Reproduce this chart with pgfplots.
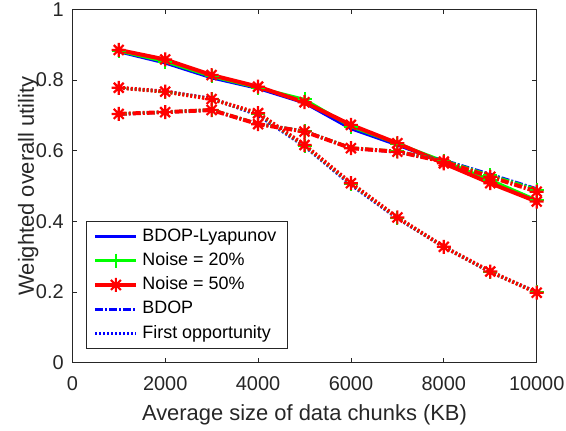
\documentclass[border=0pt]{standalone}
\usepackage{fontspec}
\setmainfont{Liberation Sans}
\usepackage{pgfplots}
\usepackage{pgfplotstable}
\pgfplotsset{compat=1.18}
\definecolor{mb}{rgb}{0,0,1}
\definecolor{mg}{rgb}{0,1,0}
\definecolor{mr}{rgb}{1,0,0}
\definecolor{ax}{rgb}{0.15,0.15,0.15}
\pgfdeclareplotmark{mast}{%
 \pgfpathmoveto{\pgfqpoint{0pt}{\pgfplotmarksize}}\pgfpathlineto{\pgfqpoint{0pt}{-\pgfplotmarksize}}%
 \pgfpathmoveto{\pgfqpoint{\pgfplotmarksize}{0pt}}\pgfpathlineto{\pgfqpoint{-\pgfplotmarksize}{0pt}}%
 \pgfpathmoveto{\pgfqpoint{0.7071\pgfplotmarksize}{0.7071\pgfplotmarksize}}\pgfpathlineto{\pgfqpoint{-0.7071\pgfplotmarksize}{-0.7071\pgfplotmarksize}}%
 \pgfpathmoveto{\pgfqpoint{-0.7071\pgfplotmarksize}{0.7071\pgfplotmarksize}}\pgfpathlineto{\pgfqpoint{0.7071\pgfplotmarksize}{-0.7071\pgfplotmarksize}}%
 \pgfusepathqstroke}
\pgfplotstableread{
x     bl    gl    rl    bb    gb    rb    bf    gf    rf
1000  0.880 0.882 0.885 0.703 0.704 0.704 0.778 0.778 0.778
2000  0.848 0.852 0.858 0.709 0.709 0.709 0.768 0.767 0.767
3000  0.806 0.810 0.814 0.715 0.716 0.715 0.748 0.746 0.746
4000  0.776 0.778 0.781 0.676 0.676 0.675 0.700 0.704 0.706
5000  0.735 0.745 0.737 0.655 0.655 0.654 0.612 0.614 0.616
6000  0.662 0.668 0.673 0.607 0.608 0.607 0.503 0.506 0.508
7000  0.616 0.620 0.621 0.596 0.598 0.597 0.408 0.410 0.411
8000  0.567 0.570 0.564 0.573 0.572 0.569 0.328 0.328 0.328
9000  0.514 0.517 0.508 0.533 0.530 0.526 0.256 0.257 0.258
10000 0.458 0.460 0.456 0.492 0.490 0.484 0.200 0.199 0.198
}\data
\begin{document}
\begin{tikzpicture}
\useasboundingbox (-36.15bp,-34.15bp) rectangle (246.85bp,181.35bp);
\begin{axis}[
  at={(0,0)}, anchor=south west,
  scale only axis,
  width=232.2bp, height=176.7bp,
  xmin=0, xmax=10000, ymin=0, ymax=1,
  xtick={0,2000,4000,6000,8000,10000},
  ytick={0,0.2,0.4,0.6,0.8,1},
  scaled x ticks=false,
  xticklabel style={/pgf/number format/1000 sep={}, anchor=base, yshift=-13.65bp},
  yticklabel style={anchor=east, xshift=-0.8bp},
  /pgf/number format/assume math mode=true,
  tick align=inside,
  major tick length=2.5bp,
  axis line style={ax, line width=0.4bp},
  every tick/.style={ax, line width=0.4bp},
  tick label style={font=\fontsize{10}{12}\selectfont, text=ax},
  label style={font=\fontsize{11}{13}\selectfont, text=ax},
  xlabel={Average size of data chunks (KB)},
  ylabel={Weighted overall utility},
  xlabel style={at={(axis description cs:0.5,0)}, anchor=base, yshift=-28.65bp},
  ylabel style={at={(axis description cs:0,0.5)}, anchor=base, yshift=19.2bp},
  legend style={at={(0.0295,0.040)}, anchor=south west, draw=ax, fill=white,
    line width=0.4bp, font=\fontsize{9}{10.5}\selectfont, row sep=0.2bp,
    inner xsep=3.5bp, inner ysep=1.5bp, cells={anchor=west}},
  legend image code/.code={\draw[mark repeat=2,mark phase=2,#1] plot coordinates {(0bp,0bp) (10.25bp,0bp) (20.5bp,0bp)};},
  mark size=3.5bp,
]
\addplot[mb, line width=1.5bp] table[x=x,y=bl]{\data};
\addlegendentry{BDOP-Lyapunov}
\addplot[mg, line width=1.5bp, mark=+, mark options={solid, line width=1bp}] table[x=x,y=gl]{\data};
\addlegendentry{Noise = 20\%}
\addplot[mr, line width=2bp, mark=mast, mark options={solid, line width=1.1bp}] table[x=x,y=rl]{\data};
\addlegendentry{Noise = 50\%}
\addplot[mb, line width=1.5bp, dash pattern=on 4bp off 1bp on 1bp off 1bp] table[x=x,y=bb]{\data};
\addlegendentry{BDOP}
\addplot[mb, line width=1.5bp, dash pattern=on 1bp off 1bp] table[x=x,y=bf]{\data};
\addlegendentry{First opportunity}
\addplot[forget plot, mg, line width=1.5bp, dash pattern=on 4bp off 1bp on 1bp off 1bp, mark=+, mark options={solid, line width=1bp}] table[x=x,y=gb]{\data};
\addplot[forget plot, mg, line width=1.5bp, dash pattern=on 1bp off 1bp, mark=+, mark options={solid, line width=1bp}] table[x=x,y=gf]{\data};
\addplot[forget plot, mr, line width=2bp, dash pattern=on 4bp off 1bp on 1bp off 1bp, mark=mast, mark options={solid, line width=1.1bp}] table[x=x,y=rb]{\data};
\addplot[forget plot, mr, line width=2bp, dash pattern=on 1bp off 1bp, mark=mast, mark options={solid, line width=1.1bp}] table[x=x,y=rf]{\data};
\end{axis}
\end{tikzpicture}
\end{document}
